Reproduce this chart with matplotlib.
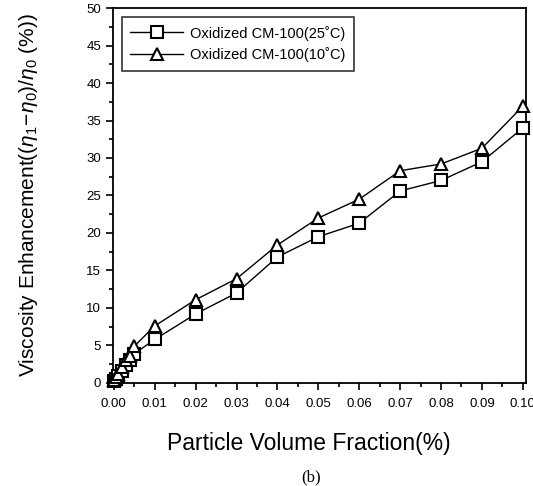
import numpy as np
import matplotlib
matplotlib.use('Agg')
import matplotlib.pyplot as plt
from matplotlib.ticker import MultipleLocator, FormatStrFormatter

plt.rcParams['font.family'] = ['Liberation Sans', 'DejaVu Sans']
plt.rcParams['mathtext.fontset'] = 'custom'
plt.rcParams['mathtext.rm'] = 'Liberation Sans'
plt.rcParams['mathtext.it'] = 'Liberation Sans:italic'
plt.rcParams['mathtext.bf'] = 'Liberation Sans:bold'

x = [0.0, 0.0005, 0.001, 0.002, 0.003, 0.004, 0.005,
     0.01, 0.02, 0.03, 0.04, 0.05, 0.06, 0.07, 0.08, 0.09, 0.10]
y_25 = [0.2, 0.5, 0.9, 1.6, 2.4, 3.0, 3.9,
        5.8, 9.2, 12.0, 16.8, 19.5, 21.3, 25.6, 27.0, 29.5, 34.0]
y_10 = [0.4, 0.8, 1.2, 2.1, 3.0, 3.6, 4.9,
        7.6, 11.1, 13.9, 18.4, 22.0, 24.5, 28.3, 29.2, 31.3, 36.9]
labels = ['Oxidized CM-100(25\u02daC)', 'Oxidized CM-100(10\u02daC)']

fig = plt.figure(figsize=(5.33, 4.86), dpi=100)
ax = fig.add_axes([0.212, 0.212, 0.775, 0.7715])

ax.plot(x, y_25, color='black', lw=1, marker='s', ms=8, mfc='white', mec='black',
        mew=1.5, label=labels[0], clip_on=False, zorder=3)
ax.plot(x, y_10, color='black', lw=1, marker='^', ms=9, mfc='white', mec='black',
        mew=1.5, label=labels[1], clip_on=False, zorder=3)

ax.set_xlim(-0.0002, 0.1008)
ax.set_ylim(0, 50)
ax.xaxis.set_major_locator(MultipleLocator(0.01))
ax.xaxis.set_minor_locator(MultipleLocator(0.005))
ax.yaxis.set_major_locator(MultipleLocator(5))
ax.yaxis.set_minor_locator(MultipleLocator(2.5))
ax.xaxis.set_major_formatter(FormatStrFormatter('%.2f'))
ax.tick_params(which='major', direction='out', length=5, width=1.2, labelsize=9.5)
ax.tick_params(axis='x', which='major', pad=6)
ax.tick_params(which='minor', direction='out', length=3, width=1.2)
for s in ax.spines.values():
    s.set_linewidth(1.3)

ax.set_ylabel(r'Viscosity Enhancement($(\eta_1\!-\!\eta_0)/\eta_0$ (%))', fontsize=15, labelpad=33)
fig.text(309 / 533, 1 - 443 / 486, 'Particle Volume Fraction(%)', fontsize=16.5,
         ha='center', va='center')
fig.text(311 / 533, 1 - 477 / 486, '(b)', fontsize=12, family='Liberation Serif',
         ha='center', va='center')

leg = ax.legend(loc='upper left', fontsize=10.5, handlelength=3.6, handletextpad=0.5,
                labelspacing=0.45, borderpad=0.6, frameon=True, fancybox=False,
                edgecolor='black', borderaxespad=0.6)
leg.get_frame().set_linewidth(1.2)

fig.savefig('out.png', dpi=100)
